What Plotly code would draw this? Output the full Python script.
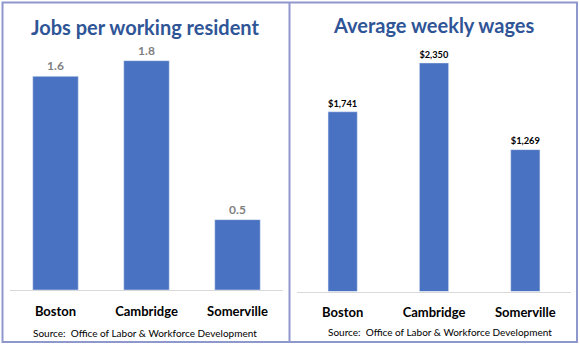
import plotly.graph_objects as go

cities = ["Boston", "Cambridge", "Somerville"]
jobs_per_resident = [1.64, 1.76, 0.54]
weekly_wages = [1741, 2350, 1269]

title_left = "Jobs per working resident"
title_right = "Average weekly wages"
source_text = "Source:  Office of Labor & Workforce Development"

W, H = 580, 346
BAR = "#4A72C2"
FRAME = "#8F98CC"
TITLE_C = "#2F5597"
FONT = "Lato"

def px(x):
    return x / W

def py(y):
    return 1 - y / H

fig = go.Figure()
fig.add_trace(go.Bar(
    x=cities, y=jobs_per_resident, xaxis="x", yaxis="y",
    marker=dict(color=BAR), width=0.5,
    texttemplate="%{y:.1f}", textposition="outside", cliponaxis=False,
    textfont=dict(family=FONT, size=12, color="#7F7F7F", weight="bold"),
))
wage_min = -500
fig.add_trace(go.Bar(
    x=cities, y=[v - wage_min for v in weekly_wages], base=wage_min,
    customdata=weekly_wages,
    xaxis="x2", yaxis="y2",
    marker=dict(color=BAR), width=0.32,
    texttemplate="$%{customdata:,.0f}", textposition="outside", cliponaxis=False,
    textfont=dict(family=FONT, size=13, color="#000000", weight="bold"),
))

axis_x = dict(showline=True, linecolor="#D9D9D9", linewidth=1, ticks="outside",
              ticklen=9, tickcolor="rgba(0,0,0,0)",
              showgrid=False, zeroline=False, fixedrange=True,
              tickfont=dict(family=FONT, size=13, color="#000000", weight="bold"))
axis_y = dict(visible=False, showgrid=False, zeroline=False)

fig.update_layout(
    width=W, height=H, margin=dict(l=0, r=0, t=0, b=0),
    paper_bgcolor="white", plot_bgcolor="white", showlegend=False,
    xaxis=dict(axis_x, domain=[px(10), px(283)], anchor="y"),
    yaxis=dict(axis_y, domain=[py(290), py(40)], range=[0, 1.9186], anchor="x"),
    xaxis2=dict(axis_x, domain=[px(297), px(571)], anchor="y2"),
    yaxis2=dict(axis_y, domain=[py(291.5), py(40)], range=[wage_min, 2636], anchor="x2"),
    shapes=[
        dict(type="rect", xref="paper", yref="paper", x0=px(2.5), x1=px(577), y0=py(342), y1=py(2.5),
             line=dict(color=FRAME, width=2)),
        dict(type="line", xref="paper", yref="paper", x0=px(289.5), x1=px(289.5), y0=py(342), y1=py(2.5),
             line=dict(color=FRAME, width=2)),
    ],
    annotations=[
        dict(text=title_left, xref="paper", yref="paper", x=px(145), y=py(27),
             showarrow=False, xanchor="center", yanchor="middle",
             font=dict(family=FONT, size=20, color=TITLE_C, weight="bold")),
        dict(text=title_right, xref="paper", yref="paper", x=px(433.5), y=py(25),
             showarrow=False, xanchor="center", yanchor="middle",
             font=dict(family=FONT, size=20, color=TITLE_C, weight="bold")),
        dict(text=source_text, xref="paper", yref="paper", x=px(145), y=py(333),
             showarrow=False, xanchor="center", yanchor="middle",
             font=dict(family=FONT, size=10, color="#000000")),
        dict(text=source_text, xref="paper", yref="paper", x=px(440), y=py(332),
             showarrow=False, xanchor="center", yanchor="middle",
             font=dict(family=FONT, size=10, color="#000000")),
    ],
)

fig.write_html("out.html")
